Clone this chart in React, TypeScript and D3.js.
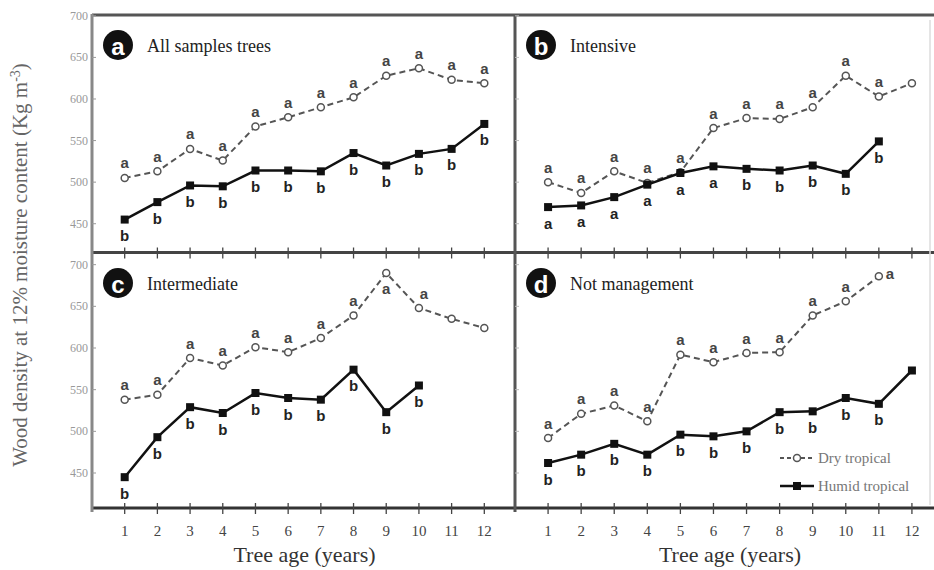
import React from 'react';
import * as d3 from 'd3';

// Tree age (years)
const ages = [1, 2, 3, 4, 5, 6, 7, 8, 9, 10, 11, 12];
const yTicks = [450, 500, 550, 600, 650, 700];

// a) All samples trees
const allDry = [505, 513, 540, 526, 567, 578, 590, 602, 628, 637, 623, 619];
const allHumid = [455, 476, 496, 495, 514, 514, 513, 535, 520, 534, 540, 570];
const allDryLetters = ['a', 'a', 'a', 'a', 'a', 'a', 'a', 'a', 'a', 'a', 'a', 'a'];
const allHumidLetters = ['b', 'b', 'b', 'b', 'b', 'b', 'b', 'b', 'b', 'b', 'b', 'b'];

// b) Intensive
const intDry = [500, 487, 513, 499, 512, 565, 577, 576, 590, 628, 603, 619];
const intHumid = [470, 472, 482, 497, 511, 519, 516, 514, 520, 510, 549];
const intDryLetters = ['a', 'a', 'a', 'a', 'a', 'a', 'a', 'a', 'a', 'a', 'a', ''];
const intHumidLetters = ['a', 'a', 'a', 'a', 'a', 'a', 'b', 'b', 'b', 'b', 'b'];

// c) Intermediate
const medDry = [538, 544, 588, 579, 601, 595, 612, 639, 690, 648, 635, 624];
const medHumid = [445, 493, 529, 522, 546, 540, 538, 574, 523, 555];
const medDryLetters = ['a', 'a', 'a', 'a', 'a', 'a', 'a', 'a', 'a', 'a', '', ''];
const medHumidLetters = ['b', 'b', 'b', 'b', 'b', 'b', 'b', 'b', 'b', 'b'];

// d) Not management
const notDry = [492, 521, 531, 512, 592, 583, 594, 595, 639, 656, 686];
const notHumid = [462, 472, 485, 472, 496, 494, 500, 523, 524, 540, 533, 573];
const notDryLetters = ['a', 'a', 'a', 'a', 'a', 'a', 'a', 'a', 'a', 'a', 'a'];
const notHumidLetters = ['b', 'b', 'b', 'b', 'b', 'b', 'b', 'b', 'b', 'b', 'b', ''];

const W = 934;
const H = 570;
const SERIF = '"Liberation Serif", "DejaVu Serif", serif';
const SANS = '"Liberation Sans", Arial, sans-serif';

const xLeft = d3.scaleLinear().domain([0, 13]).range([92, 517]);
const xRight = d3.scaleLinear().domain([0, 13]).range([515, 945]);
const yTop = d3.scaleLinear().domain([416, 701]).range([252, 15]);
const yBottom = d3.scaleLinear().domain([408, 714]).range([508, 253]);

type PanelProps = {
  x: d3.ScaleLinear<number, number>;
  y: d3.ScaleLinear<number, number>;
  tag: string;
  title: string;
  dry: number[];
  humid: number[];
  dryLetters: string[];
  humidLetters: string[];
  // letter placement tweaks: index -> 'below' | 'right'
  dryPlace?: Record<number, string>;
};

const Panel: React.FC<PanelProps> = ({ x, y, tag, title, dry, humid, dryLetters, humidLetters, dryPlace = {} }) => {
  const line = (vals: number[]) =>
    d3.line<number>().x((_, i) => x(ages[i])).y(d => y(d))(vals) ?? '';
  const top = y.range()[1];
  const x0 = x.range()[0];
  return (
    <g>
      {/* panel tag */}
      <circle cx={x0 + 26} cy={top + 30} r={15} fill="#111" />
      <text x={x0 + 26} y={top + 31} textAnchor="middle" dominantBaseline="central"
        fill="#fff" fontFamily={SANS} fontWeight="bold" fontSize={24}>{tag}</text>
      <text x={x0 + 55} y={top + 37} fontFamily={SERIF} fontSize={18} fill="#222">{title}</text>

      {/* Dry tropical */}
      <path d={line(dry)} fill="none" stroke="#555" strokeWidth={2} strokeDasharray="6,4" />
      {dry.map((d, i) => (
        <circle key={'dc' + i} cx={x(ages[i])} cy={y(d)} r={3.5} fill="#fff" stroke="#555" strokeWidth={1.5} />
      ))}
      {dryLetters.map((l, i) => {
        if (!l || i >= dry.length) return null;
        const p = dryPlace[i];
        const lx = x(ages[i]) + (p === 'right' ? 11 : p === 'upright' ? 5 : 0);
        const ly = y(dry[i]) + (p === 'below' ? 15 : p === 'right' ? -3 : -15);
        return (
          <text key={'dl' + i} x={lx} y={ly} textAnchor="middle" dominantBaseline="central"
            fontFamily={SANS} fontWeight="bold" fontSize={15} fill="#444">{l}</text>
        );
      })}

      {/* Humid tropical */}
      <path d={line(humid)} fill="none" stroke="#111" strokeWidth={2.5} />
      {humid.map((d, i) => (
        <rect key={'hr' + i} x={x(ages[i]) - 4} y={y(d) - 4} width={8} height={8} fill="#111" />
      ))}
      {humidLetters.map((l, i) => {
        if (!l || i >= humid.length) return null;
        return (
          <text key={'hl' + i} x={x(ages[i])} y={y(humid[i]) + 16} textAnchor="middle" dominantBaseline="central"
            fontFamily={SANS} fontWeight="bold" fontSize={15} fill="#222">{l}</text>
        );
      })}
    </g>
  );
};

const XTicks: React.FC<{ yPos: number; labels?: boolean }> = ({ yPos, labels }) => (
  <g>
    {[xLeft, xRight].map((x, k) =>
      ages.map(a => (
        <g key={k + '-' + a}>
          <line x1={x(a)} x2={x(a)} y1={yPos - 5} y2={yPos + 6} stroke="#444" strokeWidth={1.3} />
          {labels && (
            <text x={x(a)} y={yPos + 28} textAnchor="middle" fontFamily={SERIF} fontSize={15} fill="#444">{a}</text>
          )}
        </g>
      ))
    )}
  </g>
);

const YTicks: React.FC<{ y: d3.ScaleLinear<number, number> }> = ({ y }) => (
  <g>
    {yTicks.map(t => (
      <g key={t}>
        <text x={88} y={y(t)} textAnchor="end" dominantBaseline="central"
          fontFamily={SERIF} fontSize={12} fill="#999">{t}</text>
        <line x1={92} x2={96} y1={y(t)} y2={y(t)} stroke="#999" strokeWidth={1} />
        <line x1={515} x2={519} y1={y(t)} y2={y(t)} stroke="#bbb" strokeWidth={1} />
      </g>
    ))}
  </g>
);

export default function App() {
  return (
    <svg width={W} height={H} style={{ position: 'fixed', left: 0, top: 0, background: '#fff' }}>
      <rect width={W} height={H} fill="#fff" />

      {/* frame */}
      <line x1={92} x2={W} y1={15} y2={15} stroke="#555" strokeWidth={3} />
      <line x1={92} x2={W} y1={252.5} y2={252.5} stroke="#444" strokeWidth={3} />
      <line x1={92} x2={W} y1={508} y2={508} stroke="#333" strokeWidth={3} />
      <line x1={92} x2={92} y1={14} y2={512} stroke="#888" strokeWidth={3} />
      <line x1={515} x2={515} y1={14} y2={512} stroke="#555" strokeWidth={3} />
      <line x1={930} x2={930} y1={20} y2={505} stroke="#ddd" strokeWidth={1.5} />

      <XTicks yPos={252.5} />
      <XTicks yPos={508} labels />
      <YTicks y={yTop} />
      <YTicks y={yBottom} />

      <Panel x={xLeft} y={yTop} tag="a" title="All samples trees"
        dry={allDry} humid={allHumid} dryLetters={allDryLetters} humidLetters={allHumidLetters} />
      <Panel x={xRight} y={yTop} tag="b" title="Intensive"
        dry={intDry} humid={intHumid} dryLetters={intDryLetters} humidLetters={intHumidLetters} />
      <Panel x={xLeft} y={yBottom} tag="c" title="Intermediate"
        dry={medDry} humid={medHumid} dryLetters={medDryLetters} humidLetters={medHumidLetters}
        dryPlace={{ 8: 'below', 9: 'upright' }} />
      <Panel x={xRight} y={yBottom} tag="d" title="Not management"
        dry={notDry} humid={notHumid} dryLetters={notDryLetters} humidLetters={notHumidLetters}
        dryPlace={{ 10: 'right' }} />

      {/* legend */}
      <g fontFamily={SERIF} fontSize={15} fill="#777">
        <line x1={780} x2={814} y1={458} y2={458} stroke="#555" strokeWidth={2} strokeDasharray="4,3" />
        <circle cx={797} cy={458} r={3.5} fill="#fff" stroke="#555" strokeWidth={1.5} />
        <text x={818} y={463}>Dry tropical</text>
        <line x1={780} x2={814} y1={486} y2={486} stroke="#111" strokeWidth={2.5} />
        <rect x={793} y={482} width={8} height={8} fill="#111" />
        <text x={818} y={491}>Humid tropical</text>
      </g>

      {/* axis titles */}
      <text transform="translate(27,265) rotate(-90)" textAnchor="middle"
        fontFamily={SERIF} fontSize={21} fill="#666">
        Wood density at 12% moisture content  (Kg m<tspan baselineShift="super" fontSize={14}>-3</tspan>)
      </text>
      <text x={(xLeft(0) + xLeft(13)) / 2} y={562} textAnchor="middle" fontFamily={SERIF} fontSize={22} fill="#333">
        Tree age (years)
      </text>
      <text x={(xRight(0) + xRight(13)) / 2} y={562} textAnchor="middle" fontFamily={SERIF} fontSize={22} fill="#333">
        Tree age (years)
      </text>
    </svg>
  );
}
